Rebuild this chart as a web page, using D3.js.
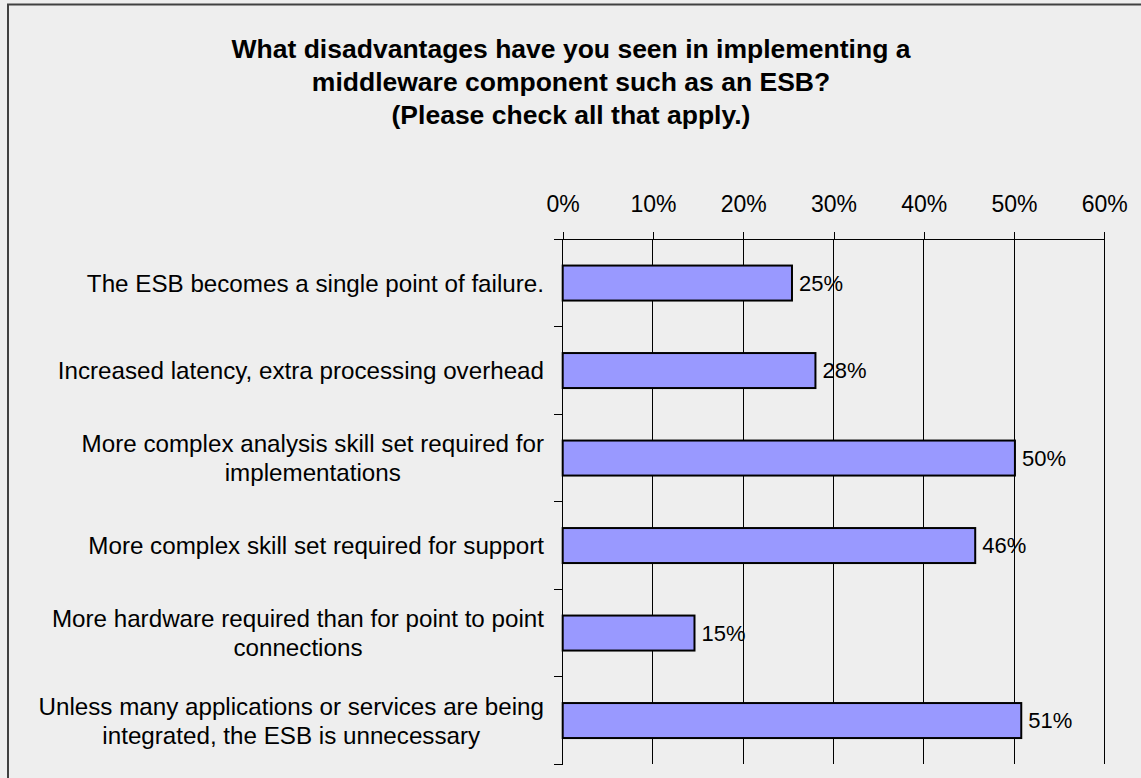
<!DOCTYPE html>
<html>
<head>
<meta charset="utf-8">
<script src="https://cdn.jsdelivr.net/npm/d3@7"></script>
<style>
  html, body { margin: 0; padding: 0; background: #eeeeee; }
  svg { display: block; font-family: "Liberation Sans", Arial, sans-serif; }
</style>
</head>
<body>
<svg id="chart" width="1141" height="778"></svg>
<script>
// Survey responses: share of respondents naming each disadvantage
const categories = [
  "The ESB becomes a single point of failure.",
  "Increased latency, extra processing overhead",
  "More complex analysis skill set required for|implementations",
  "More complex skill set required for support",
  "More hardware required than for point to point|connections",
  "Unless many applications or services are being|integrated, the ESB is unnecessary"
];
const values = [0.254, 0.280, 0.501, 0.457, 0.146, 0.508];
const tickValues = [0, 0.1, 0.2, 0.3, 0.4, 0.5, 0.6];
const titleLines = [
  "What disadvantages have you seen in implementing a",
  "middleware component such as an ESB?",
  "(Please check all that apply.)"
];

const svg = d3.select("#chart");
const W = 1141, H = 778;
const plot = { left: 562.7, right: 1104.3, top: 239.3, bottom: 764.3 };

// background and chart frame
svg.append("rect").attr("width", W).attr("height", H).attr("fill", "#eeeeee");
svg.append("rect")
  .attr("x", 8).attr("y", 4.5)
  .attr("width", W + 20).attr("height", H + 20)
  .attr("fill", "none").attr("stroke", "#404040").attr("stroke-width", 2);

// title
svg.append("text")
  .attr("text-anchor", "middle")
  .attr("font-size", 26.5).attr("font-weight", "bold")
  .selectAll("tspan").data(titleLines).join("tspan")
  .attr("x", 571).attr("y", (d, i) => 58 + i * 33)
  .text(d => d);

const x = d3.scaleLinear().domain([0, 0.6]).range([plot.left, plot.right]);
const y = d3.scaleBand().domain(categories).range([plot.top, plot.bottom])
  .paddingInner(0.6).paddingOuter(0.3);
const step = y.step();

// vertical gridlines
svg.append("g").selectAll("line").data(tickValues.slice(1)).join("line")
  .attr("x1", d => x(d)).attr("x2", d => x(d))
  .attr("y1", plot.top).attr("y2", plot.bottom)
  .attr("stroke", "#000").attr("stroke-width", 1).attr("shape-rendering", "crispEdges");

// value axis along the top
const xAxis = svg.append("g")
  .attr("transform", `translate(0,${plot.top})`)
  .call(d3.axisTop(x).tickValues(tickValues).tickFormat(d3.format(".0%"))
    .tickSize(7).tickSizeOuter(0).tickPadding(20));
xAxis.select(".domain").attr("stroke", "#000").attr("shape-rendering", "crispEdges");
xAxis.selectAll(".tick line").attr("stroke", "#000").attr("shape-rendering", "crispEdges");
xAxis.selectAll(".tick text").attr("font-size", 23).attr("fill", "#000")
  .attr("font-family", "Liberation Sans, Arial, sans-serif");

// category axis line and boundary ticks
const boundaries = d3.range(categories.length + 1).map(i => plot.top + i * step);
const cat = svg.append("g").attr("shape-rendering", "crispEdges");
cat.append("line")
  .attr("x1", plot.left).attr("x2", plot.left)
  .attr("y1", plot.top).attr("y2", plot.bottom)
  .attr("stroke", "#000");
cat.selectAll("line.tk").data(boundaries).join("line").attr("class", "tk")
  .attr("x1", plot.left - 9).attr("x2", plot.left)
  .attr("y1", d => d).attr("y2", d => d)
  .attr("stroke", "#000");

// bars
svg.append("g").selectAll("rect").data(values).join("rect")
  .attr("x", x(0))
  .attr("y", (d, i) => y(categories[i]))
  .attr("width", d => x(d) - x(0))
  .attr("height", y.bandwidth())
  .attr("fill", "#9999ff").attr("stroke", "#000").attr("stroke-width", 2);

// value labels
svg.append("g").selectAll("text").data(values).join("text")
  .attr("x", d => x(d) + 7)
  .attr("y", (d, i) => y(categories[i]) + y.bandwidth() / 2)
  .attr("dy", "0.36em")
  .attr("font-size", 22)
  .text(d => d3.format(".0%")(d));

// category labels: block right-aligned to the axis, lines centred inside the block
const labelRight = 544, lineH = 29, labelSize = 24.2;
categories.forEach((c, i) => {
  const lines = c.split("|");
  const cy = y(c) + y.bandwidth() / 2;
  const t = svg.append("text").attr("font-size", labelSize).attr("text-anchor", "middle");
  const spans = lines.map((ln, j) => t.append("tspan")
    .attr("y", cy + (j - (lines.length - 1) / 2) * lineH)
    .attr("dy", "0.36em")
    .text(ln));
  const widths = spans.map(s => s.node().getComputedTextLength());
  const blockW = d3.max(widths);
  spans.forEach(s => s.attr("x", labelRight - blockW / 2));
});
</script>
</body>
</html>
